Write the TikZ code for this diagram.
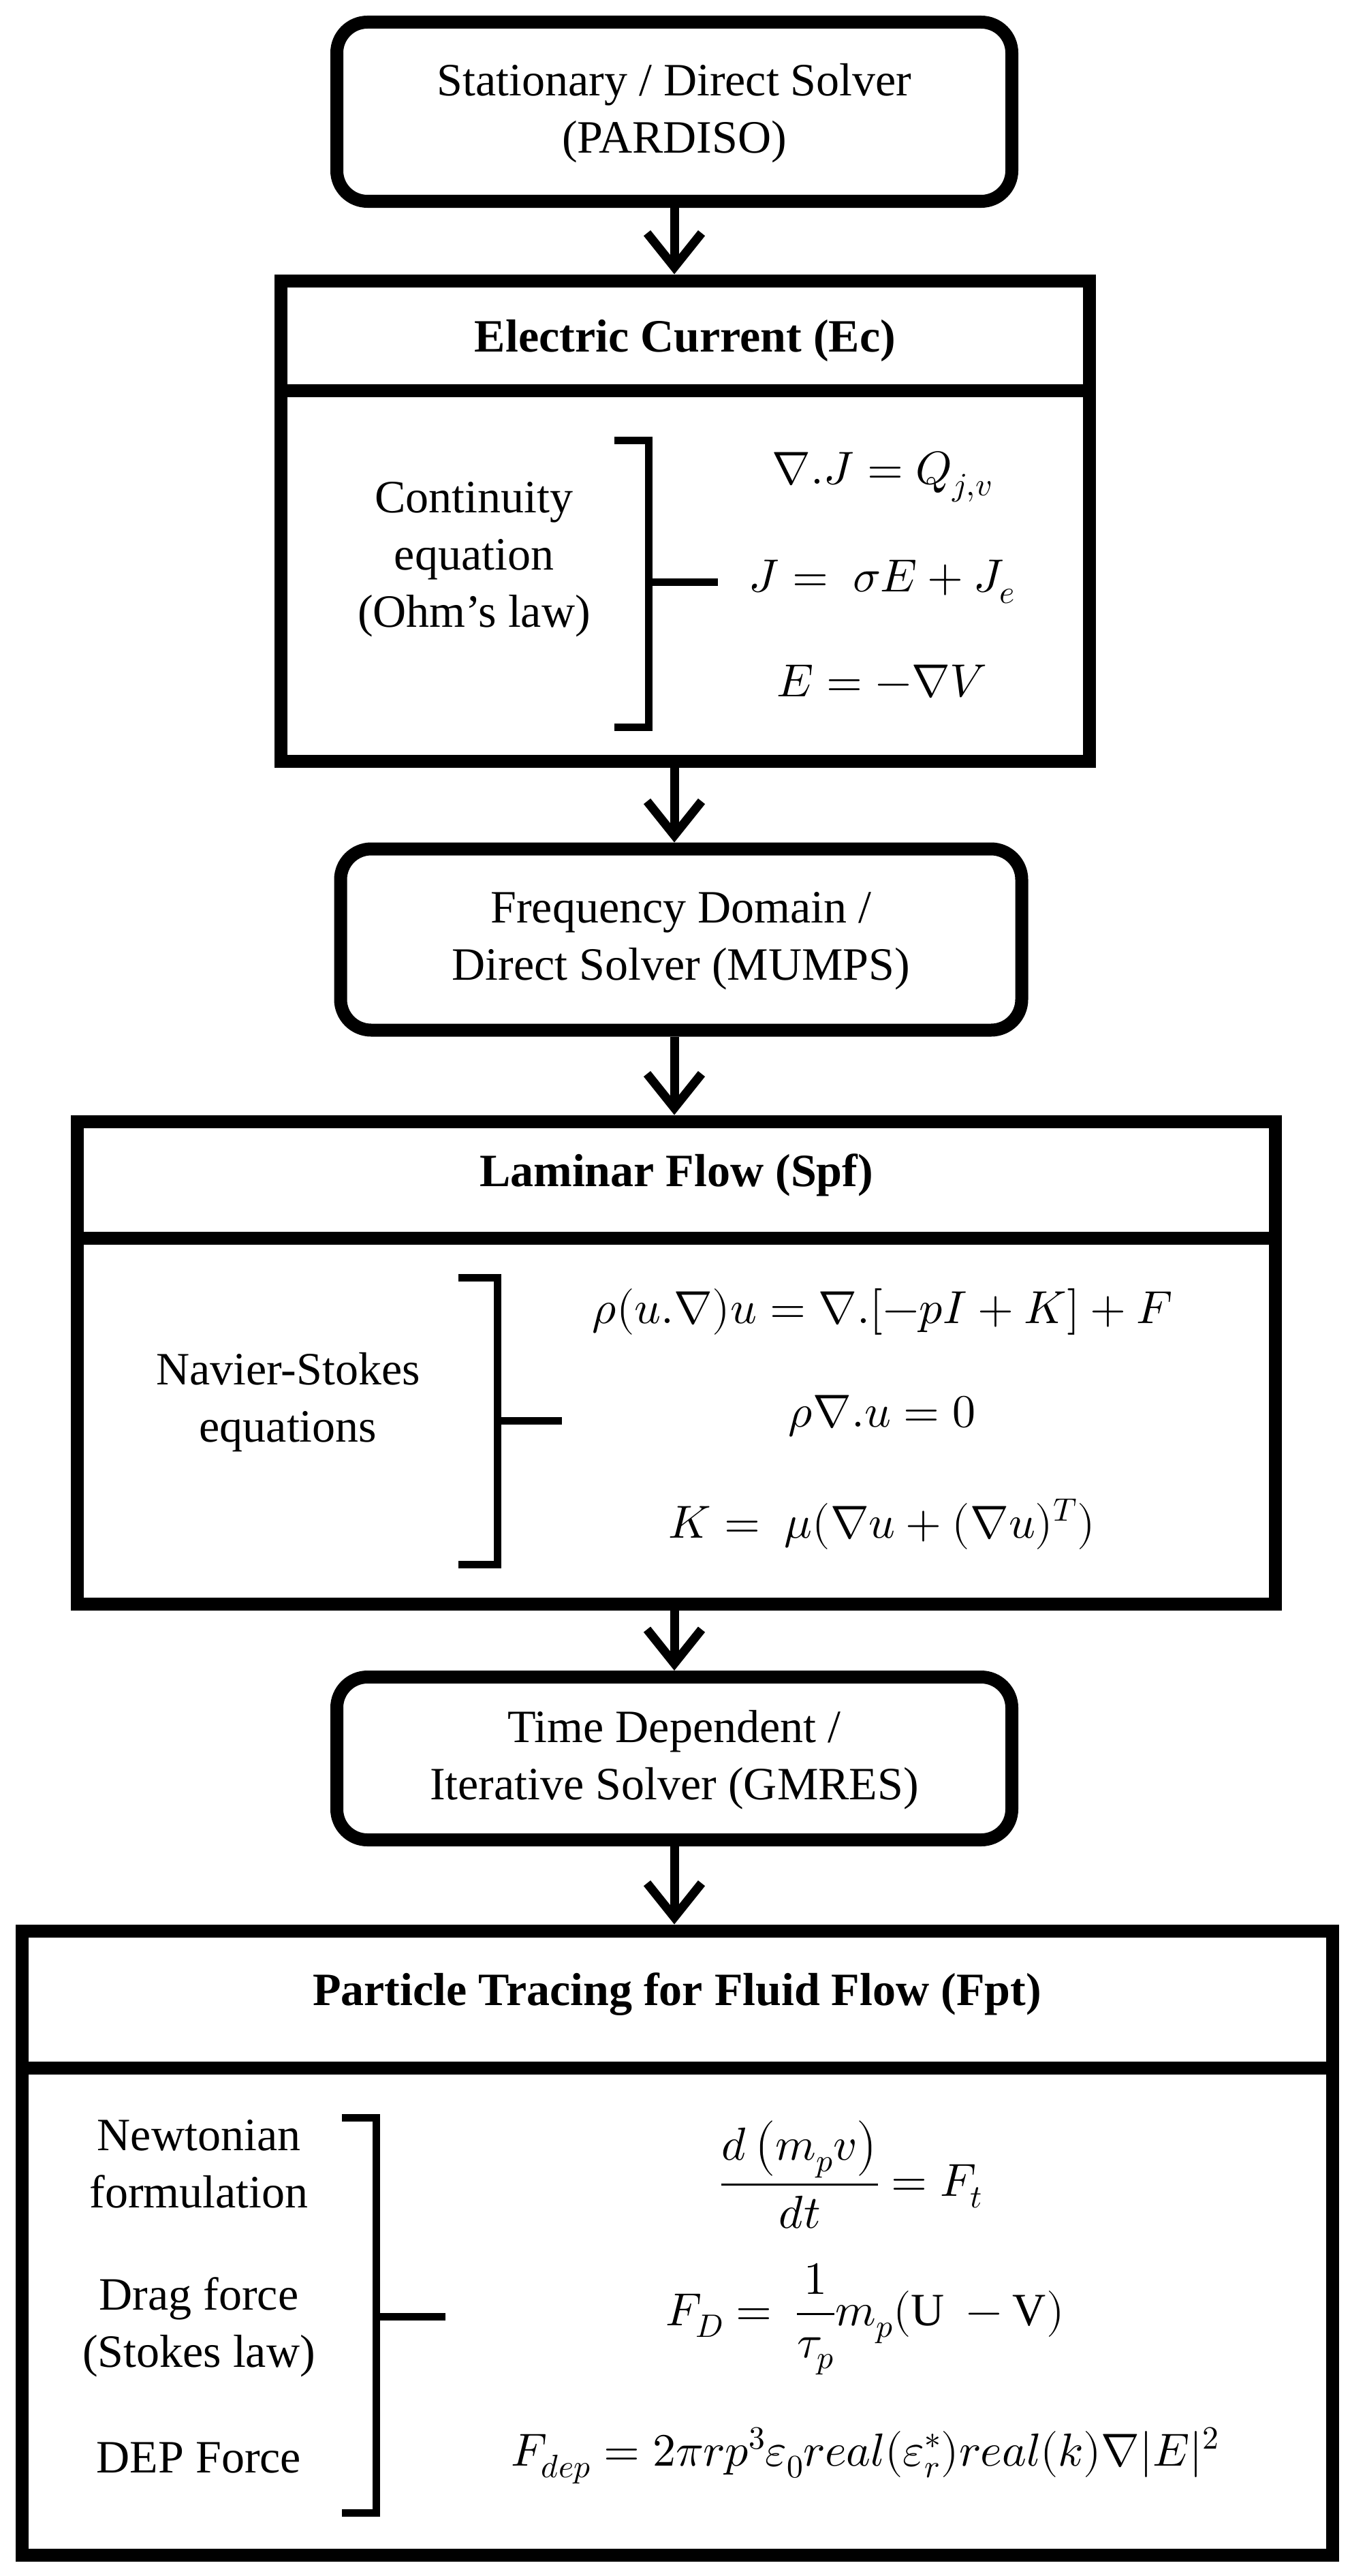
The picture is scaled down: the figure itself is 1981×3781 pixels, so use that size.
\documentclass[tikz,border=0pt]{standalone}
\usepackage{fontspec}
\usepackage{unicode-math}
\setmathfont{Latin Modern Math}
\setmainfont{Liberation Serif}
\newfontfamily\serf{Liberation Serif}
\usetikzlibrary{arrows.meta}
\begin{document}
\begin{tikzpicture}[x=1pt,y=-1pt,
  txt/.style={font=\serf\fontsize{68}{84}\selectfont, align=center},
  hdr/.style={font=\serf\fontsize{68}{84}\selectfont\bfseries},
  eq/.style={font=\fontsize{68}{84}\selectfont},
  rbox/.style={draw, line width=19pt, rounded corners=45pt, inner sep=0pt},
  sbox/.style={draw, line width=19pt, inner sep=0pt},
  arr/.style={line width=13pt, -{Straight Barb[length=50pt,width=80pt,line width=13pt]}},
  brk/.style={line width=11pt}]
\useasboundingbox (0,0) rectangle (1981,3781);
\fill[white] (0,0) rectangle (1981,3781);

% Box 1
\node[rbox, minimum width=991pt, minimum height=263pt] (b1) at (990,164) {};
\node[txt] (t1) at (990,166) {Stationary / Direct Solver\\(PARDISO)};

% Box 2
\node[sbox, minimum width=1187pt, minimum height=705pt] (b2) at (1006,764.5) {};
\coordinate (d2l) at (413,573); \coordinate (d2r) at (1600,573);
\draw[line width=19pt] (d2l) -- (d2r);
\node[hdr] (h2) at (1006,500) {Electric Current (Ec)};
\node[txt] (l2) at (696,821) {Continuity\\equation\\(Ohm’s law)};
\coordinate (k2a) at (902,646); \coordinate (k2b) at (952,646);
\coordinate (k2c) at (952,1067); \coordinate (k2d) at (902,1067);
\coordinate (k2m) at (952,854); \coordinate (k2n) at (1054,854);
\draw[brk] (k2a) -- (k2b) -- (k2c) -- (k2d);
\draw[brk] (k2m) -- (k2n);
\node[eq] (e21) at (1295,700) {$\nabla.J=Q_{j,v}$};
\node[eq] (e22) at (1295,854) {$J=\ \sigma E+J_e$};
\node[eq] (e23) at (1295,1000) {$E=-\nabla V$};

% Box 3
\node[rbox, minimum width=1000pt, minimum height=266pt] (b3) at (1000,1379) {};
\node[txt] (t3) at (1000,1381) {Frequency Domain /\\Direct Solver (MUMPS)};

% Box 4
\node[sbox, minimum width=1759pt, minimum height=708pt] (b4) at (993,2000) {};
\coordinate (d4l) at (114,1817); \coordinate (d4r) at (1873,1817);
\draw[line width=19pt] (d4l) -- (d4r);
\node[hdr] (h4) at (993,1725) {Laminar Flow (Spf)};
\node[txt] (l4) at (423,2058) {Navier-Stokes\\equations};
\coordinate (k4a) at (673,1875); \coordinate (k4b) at (730,1875);
\coordinate (k4c) at (730,2296); \coordinate (k4d) at (673,2296);
\coordinate (k4m) at (730,2085); \coordinate (k4n) at (825,2085);
\draw[brk] (k4a) -- (k4b) -- (k4c) -- (k4d);
\draw[brk] (k4m) -- (k4n);
\node[eq] (e41) at (1295,1925) {$\rho(u.\nabla)u=\nabla.[-pI+K]+F$};
\node[eq] (e42) at (1295,2079) {$\rho\nabla.u=0$};
\node[eq] (e43) at (1295,2237) {$K=\ \mu(\nabla u+(\nabla u)^T)$};

% Box 5
\node[rbox, minimum width=991pt, minimum height=239pt] (b5) at (990,2581) {};
\node[txt] (t5) at (990,2583) {Time Dependent /\\Iterative Solver (GMRES)};

% Box 6
\node[sbox, minimum width=1924pt, minimum height=916pt] (b6) at (994,3292) {};
\coordinate (d6l) at (32,3035); \coordinate (d6r) at (1956,3035);
\draw[line width=19pt] (d6l) -- (d6r);
\node[hdr] (h6) at (994,2927) {Particle Tracing for Fluid Flow (Fpt)};
\node[txt] (l61) at (292,3176) {Newtonian\\formulation};
\node[txt] (l62) at (292,3416) {Drag force\\(Stokes law)};
\node[txt] (l63) at (292,3608) {DEP Force};
\coordinate (k6a) at (502,3108); \coordinate (k6b) at (552,3108);
\coordinate (k6c) at (552,3688); \coordinate (k6d) at (502,3688);
\coordinate (k6m) at (552,3400); \coordinate (k6n) at (654,3400);
\draw[brk] (k6a) -- (k6b) -- (k6c) -- (k6d);
\draw[brk] (k6m) -- (k6n);
\node[eq] (e61) at (1250,3192) {$\dfrac{d\left(m_pv\right)}{dt}=F_t$};
\node[eq] (e62) at (1270,3404) {$F_D=\ \dfrac{1}{\tau_p}m_p(\mathrm{U}\ -\mathrm{V})$};
\node[eq] (e63) at (1270,3604) {$F_{dep}=2\pi rp^3\varepsilon_0real(\varepsilon_r^*)real(k)\nabla|E|^2$};

% Arrows
\draw[arr] (b1.south) -- (b1.south |- b2.north);
\draw[arr] (b1.south |- b2.south) -- (b1.south |- b3.north);
\draw[arr] (b1.south |- b3.south) -- (b1.south |- b4.north);
\draw[arr] (b1.south |- b4.south) -- (b1.south |- b5.north);
\draw[arr] (b5.south) -- (b5.south |- b6.north);
\end{tikzpicture}
\end{document}
